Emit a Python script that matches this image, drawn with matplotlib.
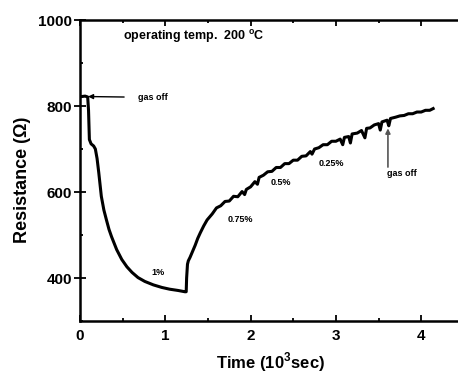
import matplotlib.pyplot as plt
from matplotlib.ticker import MultipleLocator

plt.rcParams['font.family'] = ['Liberation Sans', 'DejaVu Sans']
plt.rcParams['font.weight'] = 'bold'

# time in 10^3 s, resistance in ohm
time = [0.02, 0.06, 0.09, 0.10, 0.11, 0.13, 0.16, 0.18, 0.20, 0.22, 0.25, 0.28,
        0.31, 0.34, 0.37, 0.43, 0.49, 0.55, 0.61, 0.68, 0.76, 0.86, 0.96, 1.05,
        1.15, 1.23, 1.245, 1.25, 1.26, 1.27, 1.29, 1.32, 1.35, 1.38, 1.41, 1.45,
        1.49, 1.55, 1.60, 1.65, 1.70, 1.75, 1.80, 1.85, 1.90, 1.93, 1.95, 2.00,
        2.05, 2.08, 2.10, 2.15, 2.20, 2.25, 2.30, 2.35, 2.40, 2.45, 2.50, 2.55,
        2.60, 2.65, 2.70, 2.72, 2.75, 2.80, 2.85, 2.90, 2.95, 3.00, 3.05, 3.08,
        3.10, 3.15, 3.17, 3.19, 3.25, 3.30, 3.34, 3.36, 3.40, 3.45, 3.50, 3.52,
        3.54, 3.60, 3.62, 3.64, 3.70, 3.75, 3.80, 3.85, 3.90, 3.95, 4.00, 4.05,
        4.10, 4.14]
resistance = [822, 823, 821, 790, 722, 712, 707, 700, 678, 645, 590, 558,
              535, 513, 496, 466, 443, 426, 413, 401, 392, 384, 378, 374,
              371, 368, 368, 400, 432, 440, 448, 462, 476, 492, 505, 521,
              535, 549, 563, 568, 578, 579, 590, 589, 601, 594, 606, 612,
              624, 618, 634, 639, 647, 648, 657, 657, 666, 666, 674, 674,
              683, 684, 694, 688, 700, 703, 710, 710, 718, 718, 723, 710,
              727, 729, 714, 735, 737, 743, 726, 748, 749, 756, 759, 744,
              763, 767, 754, 771, 774, 777, 778, 782, 782, 786, 786, 790,
              790, 794]

conc_labels = ['1%', '0.75%', '0.5%', '0.25%']
conc_x = [0.91, 1.88, 2.36, 2.95]
conc_y = [413, 535, 621, 667]

fig = plt.figure(figsize=(4.58, 3.76), dpi=100)
ax = fig.add_axes([80 / 458, 55 / 376, 382 / 458, 301 / 376])

ax.plot(time, resistance, color='black', lw=2.2)

ax.set_xlim(0, 382 / 85.3)
ax.set_ylim(300, 1000)
ax.xaxis.set_major_locator(MultipleLocator(1))
ax.xaxis.set_minor_locator(MultipleLocator(0.5))
ax.yaxis.set_minor_locator(MultipleLocator(100))
ax.set_yticks([400, 600, 800, 1000])

for s in ax.spines.values():
    s.set_linewidth(1.8)
    s.set_zorder(5)

ax.tick_params(axis='x', which='both', direction='in', top=True, bottom=True,
               labelsize=11, pad=6, width=1.3)
ax.tick_params(axis='x', which='major', length=4)
ax.tick_params(axis='x', which='minor', length=2.5)
ax.tick_params(axis='y', which='major', direction='inout', length=9, labelsize=11, pad=1, width=1.3)
ax.tick_params(axis='y', which='minor', direction='in', length=2.5, width=1.3)

ax.set_xlabel('Time (10$^{\\mathregular{3}}$sec)', fontsize=12, fontweight='bold', labelpad=5)
ax.set_ylabel('Resistance (\u03a9)', fontsize=13, fontweight='bold')
ax.yaxis.set_label_coords(-0.128, 0.47)

ax.text(0.50, 961, 'operating temp.  200 $^{\\mathregular{o}}$C', fontsize=9,
        fontweight='bold', va='center', ha='left')

ax.annotate('gas off', xy=(0.095, 822), xytext=(0.68, 820), fontsize=6.5,
            fontweight='bold', va='center', ha='left',
            arrowprops=dict(arrowstyle='-|>', color='black', lw=1, shrinkA=8, shrinkB=0,
                            mutation_scale=7))
ax.annotate('', xy=(3.61, 748), xytext=(3.61, 658),
            arrowprops=dict(arrowstyle='-|>', color='#555555', lw=1.2, shrinkA=0, shrinkB=0,
                            mutation_scale=7))
ax.text(3.77, 642, 'gas off', fontsize=6.5, fontweight='bold', ha='center', va='center')

for lab, x, y in zip(conc_labels, conc_x, conc_y):
    ax.text(x, y, lab, fontsize=6.5, fontweight='bold', ha='center', va='center')

fig.savefig('out.png', dpi=100)
